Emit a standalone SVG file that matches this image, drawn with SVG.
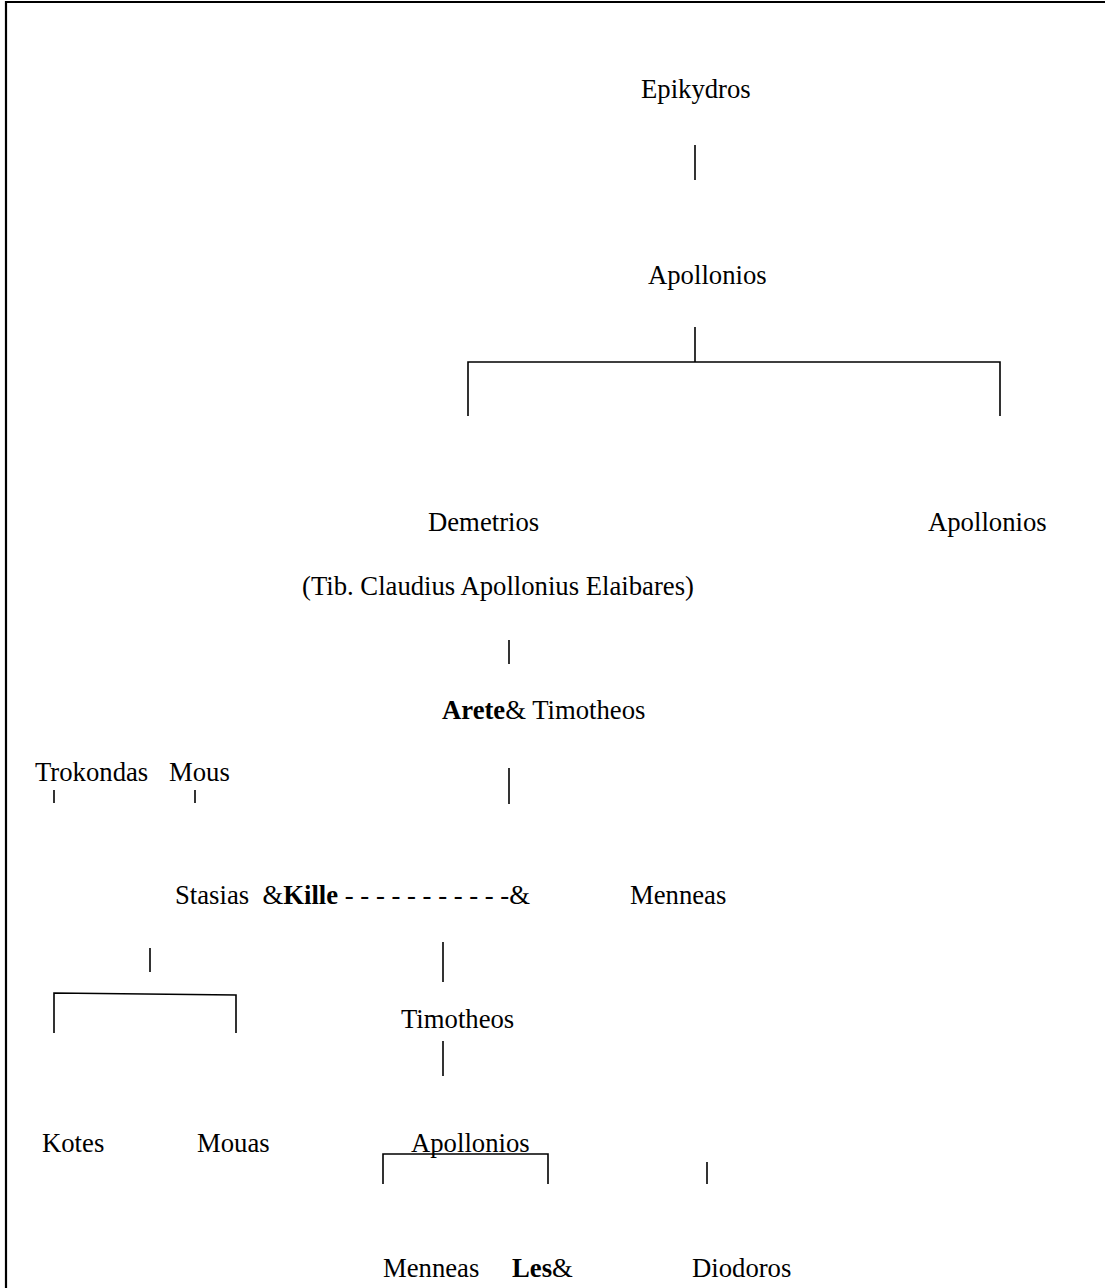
<svg xmlns="http://www.w3.org/2000/svg" width="1105" height="1288" viewBox="0 0 1105 1288">
<style>
text{font-family:"Liberation Serif","Times New Roman",serif;font-size:26.7px;fill:#000;white-space:pre}
.b{font-weight:bold}
.c line,.c polyline{stroke:#000;stroke-width:1.6;fill:none}
</style>
<rect width="1105" height="1288" fill="#fff"/>
<path d="M6,1288 V2 H1105" stroke="#000" stroke-width="2.2" fill="none"/>
<g class="c" id="connectors">
<line x1="695" y1="145" x2="695" y2="180"/>
<line x1="695" y1="327" x2="695" y2="362"/>
<polyline points="468,416 468,362 1000,362 1000,416"/>
<line x1="509" y1="640" x2="509" y2="664"/>
<line x1="54" y1="790" x2="54" y2="803"/>
<line x1="195" y1="790" x2="195" y2="803"/>
<line x1="509" y1="768" x2="509" y2="804"/>
<line x1="150" y1="948" x2="150" y2="972"/>
<line x1="443" y1="942" x2="443" y2="982"/>
<polyline points="54,1033 54,993 236,995 236,1033"/>
<line x1="443" y1="1041" x2="443" y2="1076"/>
<polyline points="383,1184 383,1154 548,1154 548,1184"/>
<line x1="707" y1="1162" x2="707" y2="1184"/>
</g>
<g id="n-epikydros"><text x="641" y="98">Epikydros</text></g>
<g id="n-apollonios1"><text x="648" y="284">Apollonios</text></g>
<g id="n-demetrios"><text x="428" y="531">Demetrios</text></g>
<g id="n-apollonios2"><text x="928" y="531">Apollonios</text></g>
<g id="n-tib"><text x="302" y="595">(Tib. Claudius Apollonius Elaibares)</text></g>
<g id="n-arete"><text x="442" y="719"><tspan class="b">Arete</tspan>&amp; Timotheos</text></g>
<g id="n-trokondas"><text x="35" y="781">Trokondas</text></g>
<g id="n-mous"><text x="169" y="781">Mous</text></g>
<g id="n-stasias"><text x="175" y="904">Stasias  &amp;<tspan class="b">Kille</tspan> - - - - - - - - - - -&amp;</text></g>
<g id="n-menneas1"><text x="630" y="904">Menneas</text></g>
<g id="n-timotheos"><text x="401" y="1028">Timotheos</text></g>
<g id="n-kotes"><text x="42" y="1152">Kotes</text></g>
<g id="n-mouas"><text x="197" y="1152">Mouas</text></g>
<g id="n-apollonios3"><text x="411" y="1152">Apollonios</text></g>
<g id="n-menneas2"><text x="383" y="1277">Menneas</text></g>
<g id="n-les"><text x="512" y="1277"><tspan class="b">Les</tspan>&amp;</text></g>
<g id="n-diodoros"><text x="692" y="1277">Diodoros</text></g>
</svg>
